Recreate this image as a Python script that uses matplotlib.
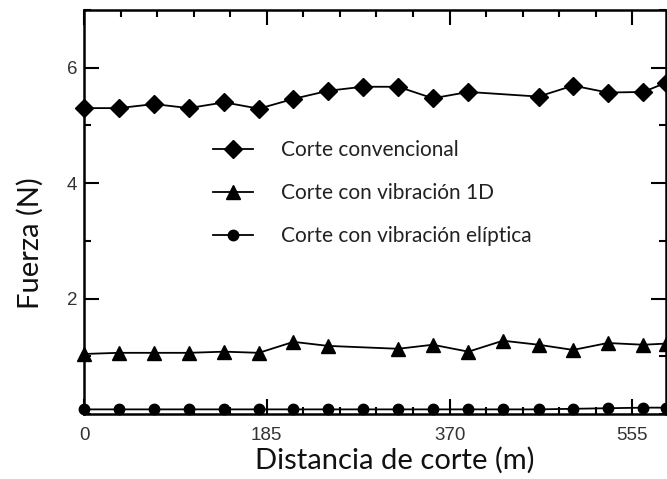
import matplotlib.pyplot as plt
from matplotlib.ticker import MultipleLocator, FixedLocator

# cutting distance (m) and cutting force (N) for each method
dist_conv = [0, 35, 71, 106, 142, 177, 212, 247, 282, 318, 353, 389, 460, 495, 530, 566, 589]
force_conv = [5.30, 5.30, 5.37, 5.30, 5.40, 5.29, 5.46, 5.60, 5.67, 5.67, 5.47, 5.58,
              5.50, 5.69, 5.57, 5.58, 5.74]

dist_1d = [0, 35, 71, 106, 142, 177, 212, 247, 318, 353, 389, 424, 460, 495, 530, 566, 589]
force_1d = [1.04, 1.06, 1.06, 1.06, 1.08, 1.06, 1.25, 1.18, 1.13, 1.20, 1.08, 1.27,
            1.20, 1.11, 1.23, 1.20, 1.22]

dist_ell = [0, 35, 71, 106, 142, 177, 212, 247, 282, 318, 353, 389, 424, 460, 495, 530, 566, 589]
force_ell = [0.08, 0.08, 0.08, 0.08, 0.08, 0.08, 0.08, 0.08, 0.08, 0.08, 0.08, 0.08,
             0.08, 0.08, 0.09, 0.10, 0.11, 0.11]

labels = ["Corte convencional", "Corte con vibración 1D", "Corte con vibración elíptica"]
x_ticks = [0, 185, 370, 555]
y_ticks = [2, 4, 6]

fig = plt.figure(figsize=(6.67, 4.79), dpi=100)
ax = fig.add_axes([84 / 667, 1 - 414 / 479, 582 / 667, 404 / 479])

line_kw = dict(color="black", linewidth=1.3, clip_on=False, zorder=3)
ax.plot(dist_conv, force_conv, marker="D", markersize=9, label=labels[0], **line_kw)
ax.plot(dist_1d, force_1d, marker="^", markersize=9.5, label=labels[1], **line_kw)
ax.plot(dist_ell, force_ell, marker="o", markersize=7.5, label=labels[2], **line_kw)

ax.set_xlim(0, 589)
ax.set_ylim(0, 7)

ax.xaxis.set_major_locator(FixedLocator(x_ticks))
ax.xaxis.set_minor_locator(MultipleLocator(37))
ax.yaxis.set_major_locator(FixedLocator(y_ticks))
ax.yaxis.set_minor_locator(MultipleLocator(1))

ax.tick_params(which="both", direction="in", top=True, right=True, width=1.5, color="black")
ax.tick_params(which="major", length=11)
ax.tick_params(which="minor", length=5)
ax.tick_params(axis="x", which="major", pad=9)
ax.tick_params(axis="y", which="major", pad=5)

for lbl in ax.get_xticklabels() + ax.get_yticklabels():
    lbl.set_family("Liberation Sans")
    lbl.set_fontsize(13.5)
    lbl.set_color("#333333")

for s in ax.spines.values():
    s.set_linewidth(1.8)

ax.set_xlabel("Distancia de corte (m)", family="Lato", fontsize=21, color="#111111")
ax.set_ylabel("Fuerza (N)", family="Lato", fontsize=21, color="#111111")
ax.xaxis.set_label_coords(0.534, -0.082)
ax.yaxis.set_label_coords(-0.07, 0.423)

ax.legend(loc="upper left", bbox_to_anchor=(0.222, 0.678), frameon=False,
          prop=dict(family="Lato", size=15), handlelength=1.9, handletextpad=1.35,
          labelspacing=1.1, borderpad=0, borderaxespad=0, labelcolor="#222222")

fig.savefig("out.png", dpi=100)
